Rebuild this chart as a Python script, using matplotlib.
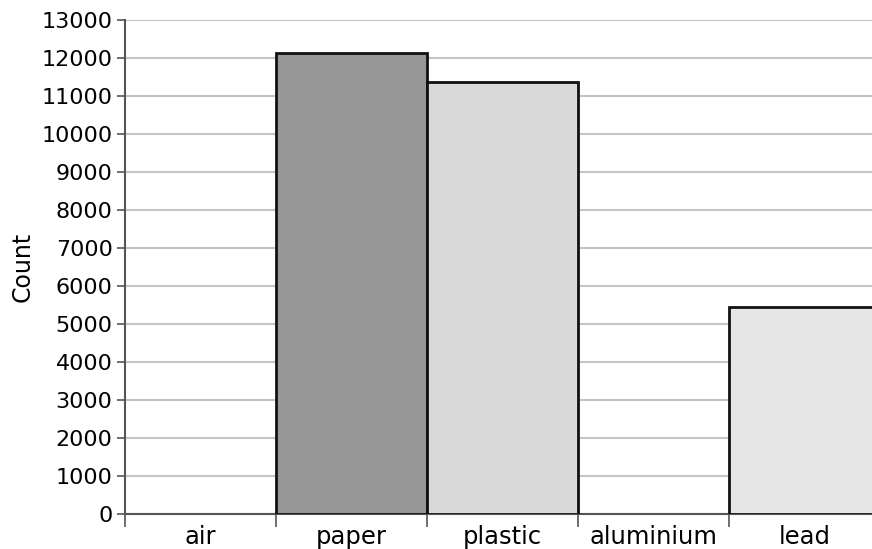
import matplotlib
matplotlib.use("Agg")
import matplotlib.pyplot as plt
import numpy as np

categories = ["air", "paper", "plastic", "aluminium", "lead"]
counts = [0, 12140, 11360, 0, 5440]
bar_colors = ["#ffffff", "#969696", "#d9d9d9", "#ffffff", "#e6e6e6"]
y_ticks = list(range(0, 13001, 1000))

plt.rcParams['font.family'] = ['DejaVu Sans']

fig = plt.figure(figsize=(8.72, 5.49), dpi=100)
ax = fig.add_axes([125/872, 35/549, 755/872, 494/549])

x = np.arange(len(categories))
for xi, c, col in zip(x, counts, bar_colors):
    if c > 0:
        ax.bar(xi, c, width=1.0, color=col, edgecolor="#111111", linewidth=2, zorder=3)

ax.set_xlim(-0.5, len(categories) - 0.5)
ax.set_ylim(0, 13000)
ax.set_yticks(y_ticks)
ax.set_yticklabels([str(v) for v in y_ticks], fontsize=16)
ax.yaxis.grid(True, color="#c4c4c4", linewidth=1.5, zorder=0)
ax.set_axisbelow(True)

ax.set_xticks(np.arange(len(categories) + 1) - 0.5)
ax.set_xticklabels([])
ax.set_xticks(x, minor=True)
ax.set_xticklabels(categories, minor=True, fontsize=17.5)
ax.tick_params(axis='x', which='major', length=9, width=1.2, color="#555555", direction='out')
ax.tick_params(axis='x', which='minor', length=0, pad=8)
ax.tick_params(axis='y', length=6, width=1.2, color="#555555", pad=3)

for s in ["top", "right"]:
    ax.spines[s].set_visible(False)
for s in ["left", "bottom"]:
    ax.spines[s].set_color("#555555")
    ax.spines[s].set_linewidth(1.5)

ax.set_ylabel("Count", fontsize=17, labelpad=5)

fig.savefig("out.png", dpi=100)
